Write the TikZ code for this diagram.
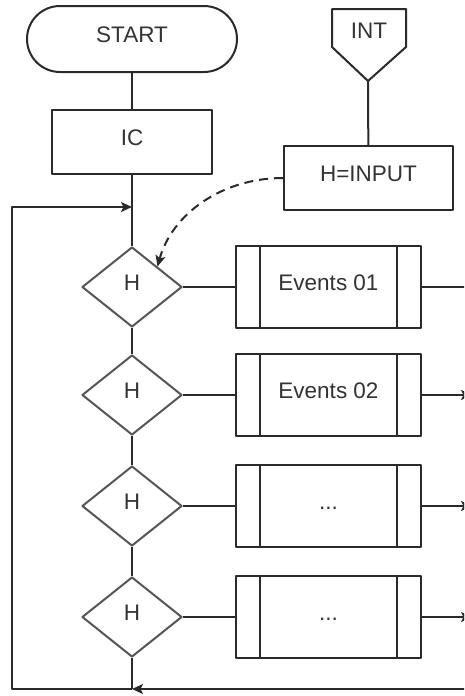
\documentclass[tikz,border=0pt]{standalone}
\usepackage{fontspec}
\setmainfont{Liberation Sans}
\usetikzlibrary{shapes.geometric,arrows.meta}
\definecolor{ink}{HTML}{2A2A2A}
\definecolor{txt}{HTML}{333333}
\definecolor{rhomb}{HTML}{555555}
\tikzset{
 line/.style={draw=ink,line width=2pt},
 box/.style={line,text=txt,minimum width=160pt,minimum height=64pt,inner sep=0pt,
   text height=0.72em,text depth=0pt},
 test/.style={diamond,draw=rhomb,line width=2pt,text=txt,minimum width=100pt,
   minimum height=80pt,inner sep=0pt,text height=0.72em,text depth=0pt},
 subproc/.style={box,minimum width=185pt,minimum height=82pt,
   path picture={\draw[line]
     ([xshift=24pt]path picture bounding box.north west) -- ([xshift=24pt]path picture bounding box.south west)
     ([xshift=-24pt]path picture bounding box.north east) -- ([xshift=-24pt]path picture bounding box.south east);}}
}
\begin{document}
\begin{tikzpicture}[x=1pt,y=-1pt,font=\fontsize{22.5}{26}\selectfont,line join=round,
  >={Stealth[length=11pt,width=10pt,inset=2.5pt]}]
 \clip (0,0) rectangle (464,696);
 \fill[white] (0,0) rectangle (464,696);
 % main column
 \node[box,rounded corners=33pt,minimum width=210pt,minimum height=66pt] (start) at (132,39) {START};
 \node[box] (ic) at (132,142) {IC};
 \foreach \i/\y in {1/287,2/395,3/506,4/617}
   \node[test] (h\i) at (132,\y) {H};
 \node[subproc] (e1) at (328.5,287) {Events 01};
 \node[subproc] (e2) at (328.5,395) {Events 02};
 \node[subproc] (e3) at (328.5,506) {...};
 \node[subproc] (e4) at (328.5,617) {...};
 % interrupt entry
 \draw[line] (332,9) -- (406,9) -- (406,47) -- (368,81) -- (332,47) -- cycle;
 \node[text=txt,text height=0.72em,text depth=0pt] (int) at (369,35) {INT};
 \coordinate (inttip) at (368,81);
 \node[box,minimum width=169pt] (input) at (368.5,178) {H=INPUT};
 \draw[line] (inttip) -- (input);
 % links
 \coordinate (topjoin) at (132,207);
 \coordinate (botjoin) at (132,689);
 \coordinate (busend) at (474,689);
 \draw[line] (start) -- (ic);
 \draw[line] (ic) -- (h1);
 \draw[line] (h1) -- (h2) (h2) -- (h3) (h3) -- (h4) (h4) -- (botjoin);
 \foreach \i in {1,...,4}
   \draw[line] (h\i.east) -- (e\i.west);
 \draw[line] (e1.east) -- ++(50,0);
 \foreach \i in {2,3,4}
   \draw[line,->] (e\i.east) -- ++(50,0);
 % loop back
 \draw[line,->] (busend) -- (botjoin);
 \draw[line,->] (botjoin) -- ++(-120,0) |- (topjoin);
 \draw[line,dash pattern=on 9pt off 6pt,->] (input.west) .. controls (222,178) and (172,214) .. (h1.north east);
\end{tikzpicture}
\end{document}
